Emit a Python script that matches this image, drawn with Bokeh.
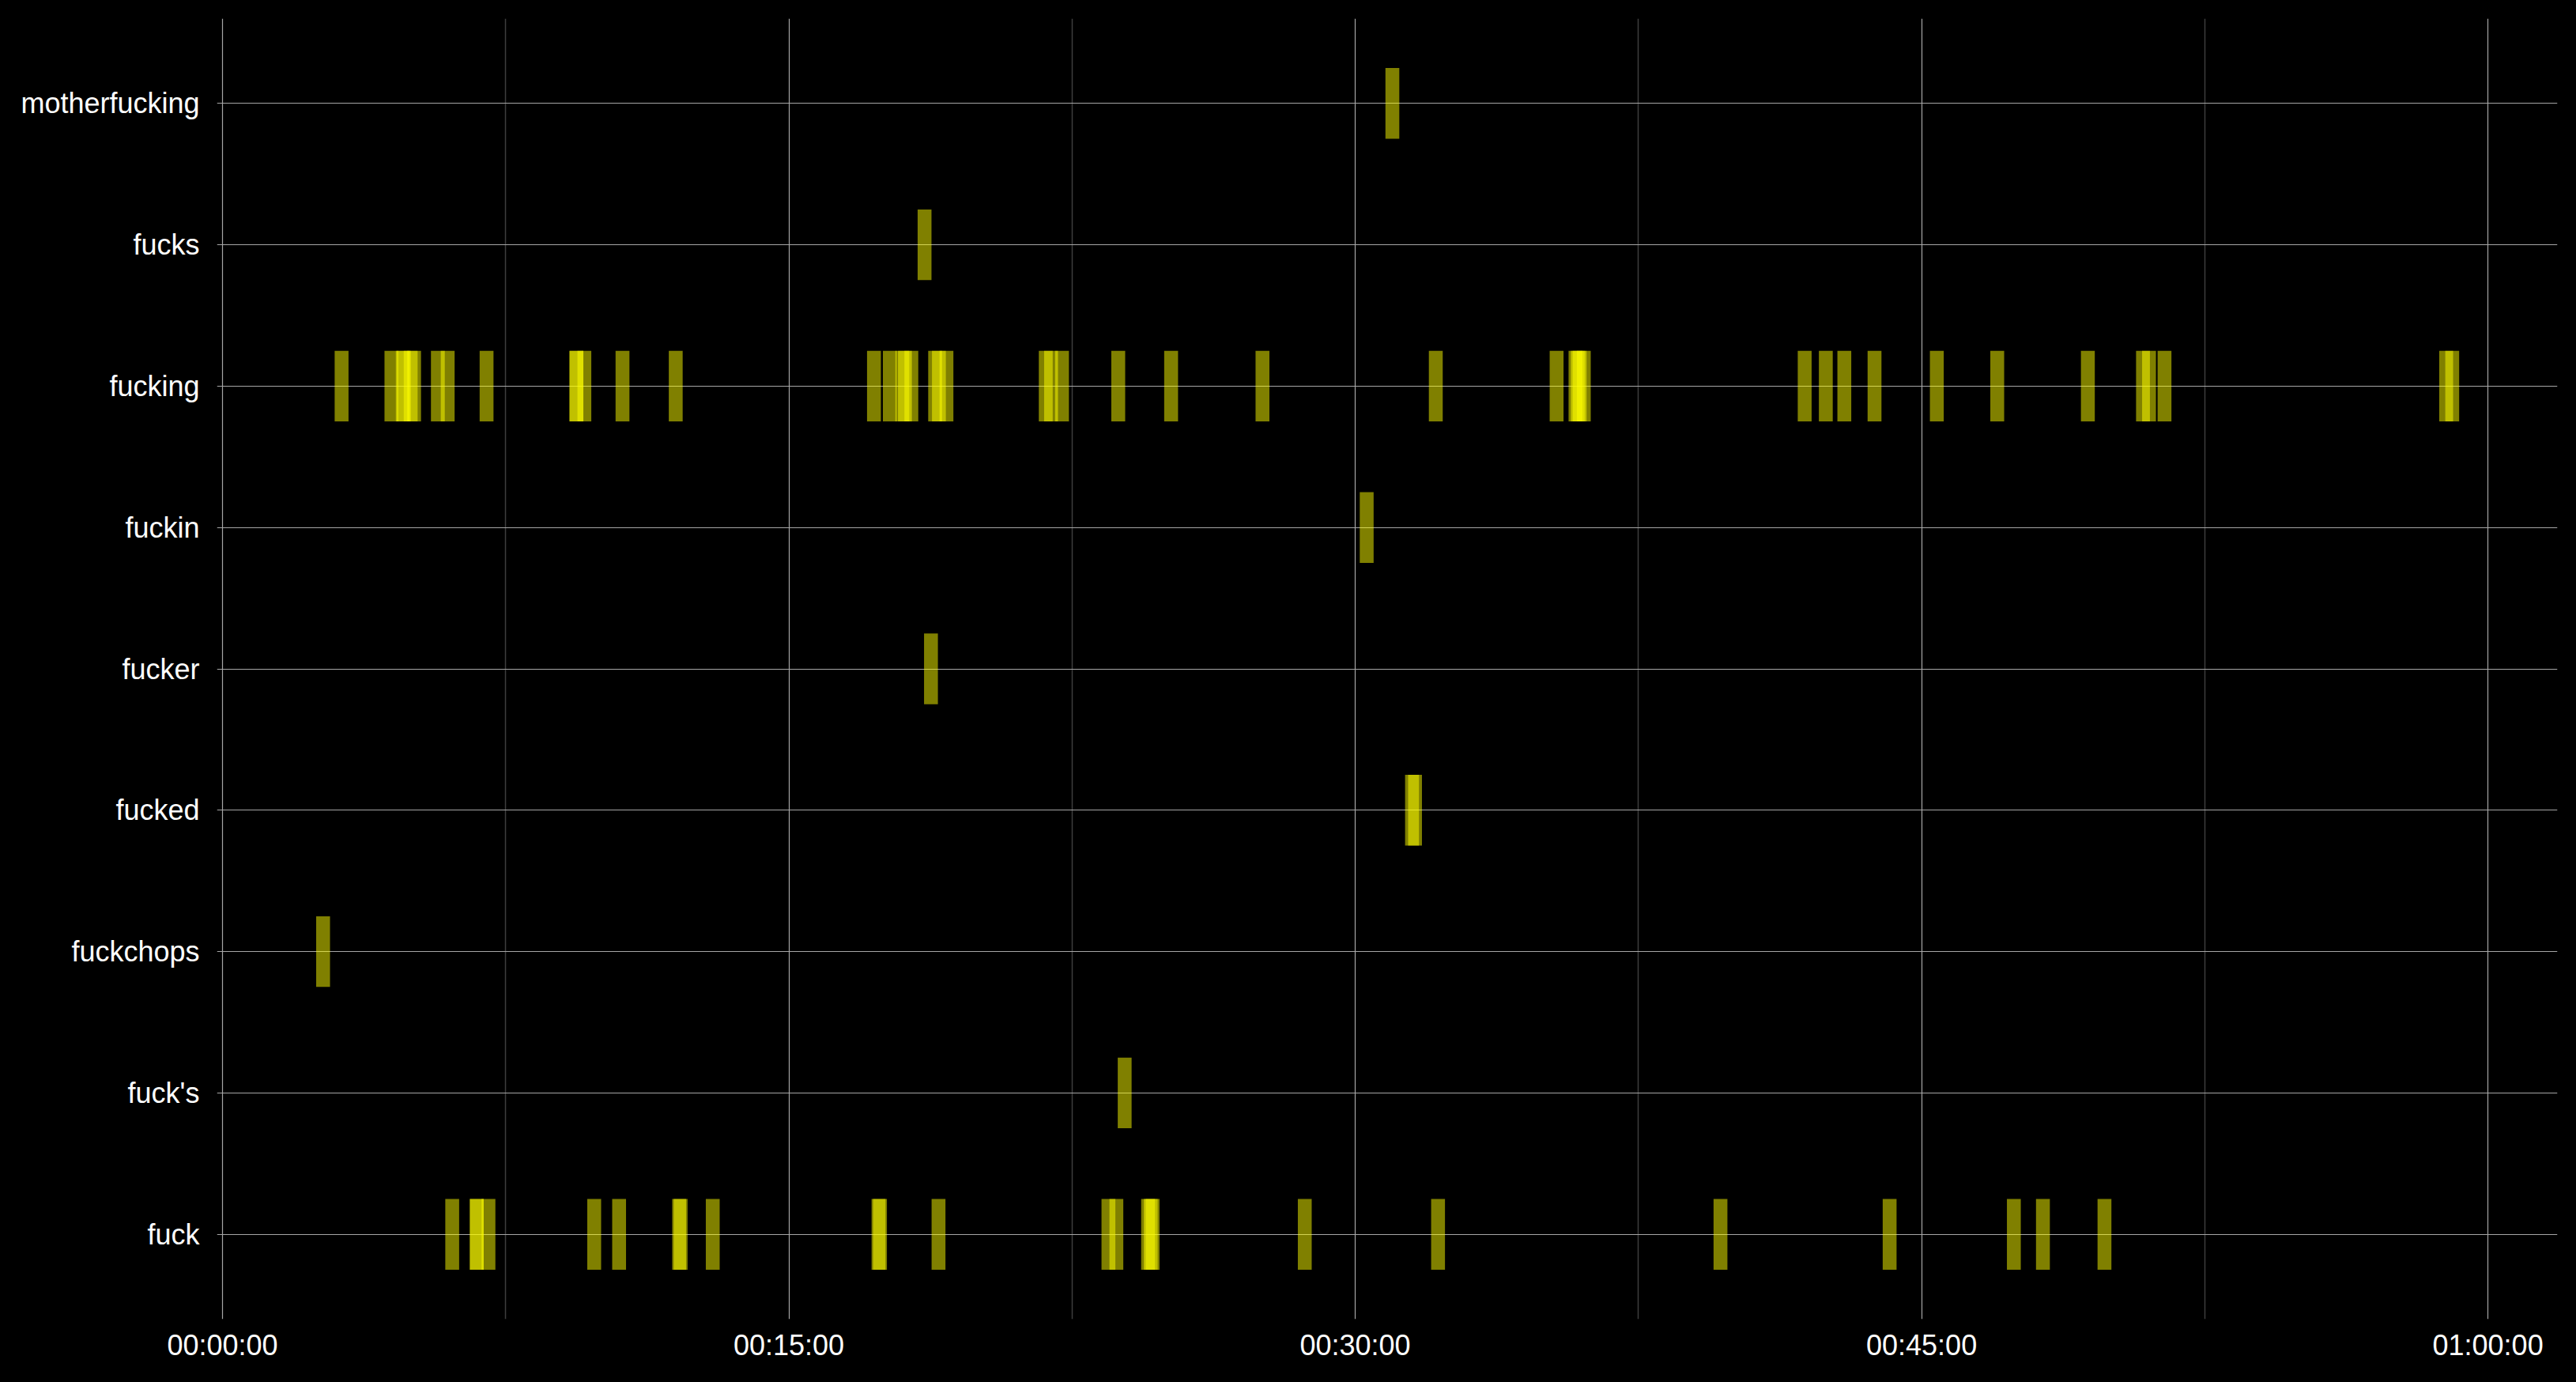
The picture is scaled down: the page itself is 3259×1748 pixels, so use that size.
from bokeh.plotting import figure
from bokeh.models import FixedTicker, FactorRange, Range1d, ColumnDataSource
from bokeh.embed import file_html
from bokeh.resources import INLINE

# categories, bottom to top
words = ["fuck", "fuck's", "fuckchops", "fucked", "fucker", "fuckin",
         "fucking", "fucks", "motherfucking"]

# start time of each occurrence, in minutes
t_motherfucking = [30.80]
t_fucks = [18.41]
t_fucking = [2.97, 4.29, 4.59, 4.62, 4.80, 4.89, 5.52, 5.78, 6.81, 9.19, 9.19,
             9.40, 10.41, 11.82, 17.07, 17.49, 17.82, 17.89, 18.06, 18.69,
             18.79, 18.99, 21.62, 21.76, 22.05, 23.54, 24.94, 27.36, 31.95,
             35.15, 35.65, 35.71, 35.76, 35.87, 41.72, 42.28, 42.77, 43.57,
             45.22, 46.82, 49.22, 50.68, 50.84, 51.25, 58.71, 58.87]
t_fuckin = [30.12]
t_fucker = [18.58]
t_fucked = [31.32, 31.40]
t_fuckchops = [2.48]
t_fuck_s = [23.71]
t_fuck = [5.90, 6.55, 6.55, 6.86, 9.66, 10.32, 11.91, 11.95, 12.80, 17.19,
          17.23, 18.78, 23.28, 23.49, 24.33, 24.40, 24.45, 28.48, 32.01,
          39.49, 43.97, 47.26, 48.03, 49.66]

# occurrence duration, minutes
duration = 0.367

tick_values = [0, 15, 30, 45, 60]
tick_labels = ["00:00:00", "00:15:00", "00:30:00", "00:45:00", "01:00:00"]
minor_values = [7.5, 22.5, 37.5, 52.5]

series = {
    "motherfucking": t_motherfucking,
    "fucks": t_fucks,
    "fucking": t_fucking,
    "fuckin": t_fuckin,
    "fucker": t_fucker,
    "fucked": t_fucked,
    "fuckchops": t_fuckchops,
    "fuck's": t_fuck_s,
    "fuck": t_fuck,
}

ys, lefts, rights = [], [], []
for w, ts in series.items():
    for t in ts:
        ys.append(w)
        lefts.append(t)
        rights.append(t + duration)
src = ColumnDataSource(dict(y=ys, left=lefts, right=rights))

p = figure(width=3259, height=1748, output_backend="svg", toolbar_location=None,
           y_range=FactorRange(*words, range_padding=0.1,
                               range_padding_units="absolute"),
           x_range=Range1d(-0.147, 61.84))
p.min_border_left = 274
p.min_border_right = 24
p.min_border_top = 23
p.min_border_bottom = 80
p.background_fill_color = "black"
p.border_fill_color = "black"
p.outline_line_color = None
p.styles = {"background-color": "black"}

p.hbar(y="y", left="left", right="right", height=0.5, source=src,
       fill_color="#ffff00", fill_alpha=0.5, line_color=None)

p.xaxis.ticker = FixedTicker(ticks=tick_values, minor_ticks=minor_values)
p.xaxis.major_label_overrides = {v: l for v, l in zip(tick_values, tick_labels)}

for axes in (p.xaxis, p.yaxis):
    axes.axis_line_color = None
    axes.major_tick_line_color = None
    axes.minor_tick_line_color = None
    axes.major_label_text_color = "white"
    axes.major_label_text_font = "Liberation Sans"
    axes.major_label_text_font_size = "36px"
p.yaxis.major_label_standoff = 16
p.xaxis.major_label_standoff = 6

p.xgrid.grid_line_color = "#a6a6a6"
p.xgrid.grid_line_width = 1.2
p.xgrid.minor_grid_line_color = "#3d3d3d"
p.xgrid.minor_grid_line_width = 1.5
p.ygrid.grid_line_color = "#a6a6a6"
p.ygrid.grid_line_width = 1.2

html = file_html(p, INLINE)
html = html.replace(
    "</head>",
    "<style>html, body { margin: 0; padding: 0; background: black; }</style></head>",
    1)
open("out.html", "w").write(html)
